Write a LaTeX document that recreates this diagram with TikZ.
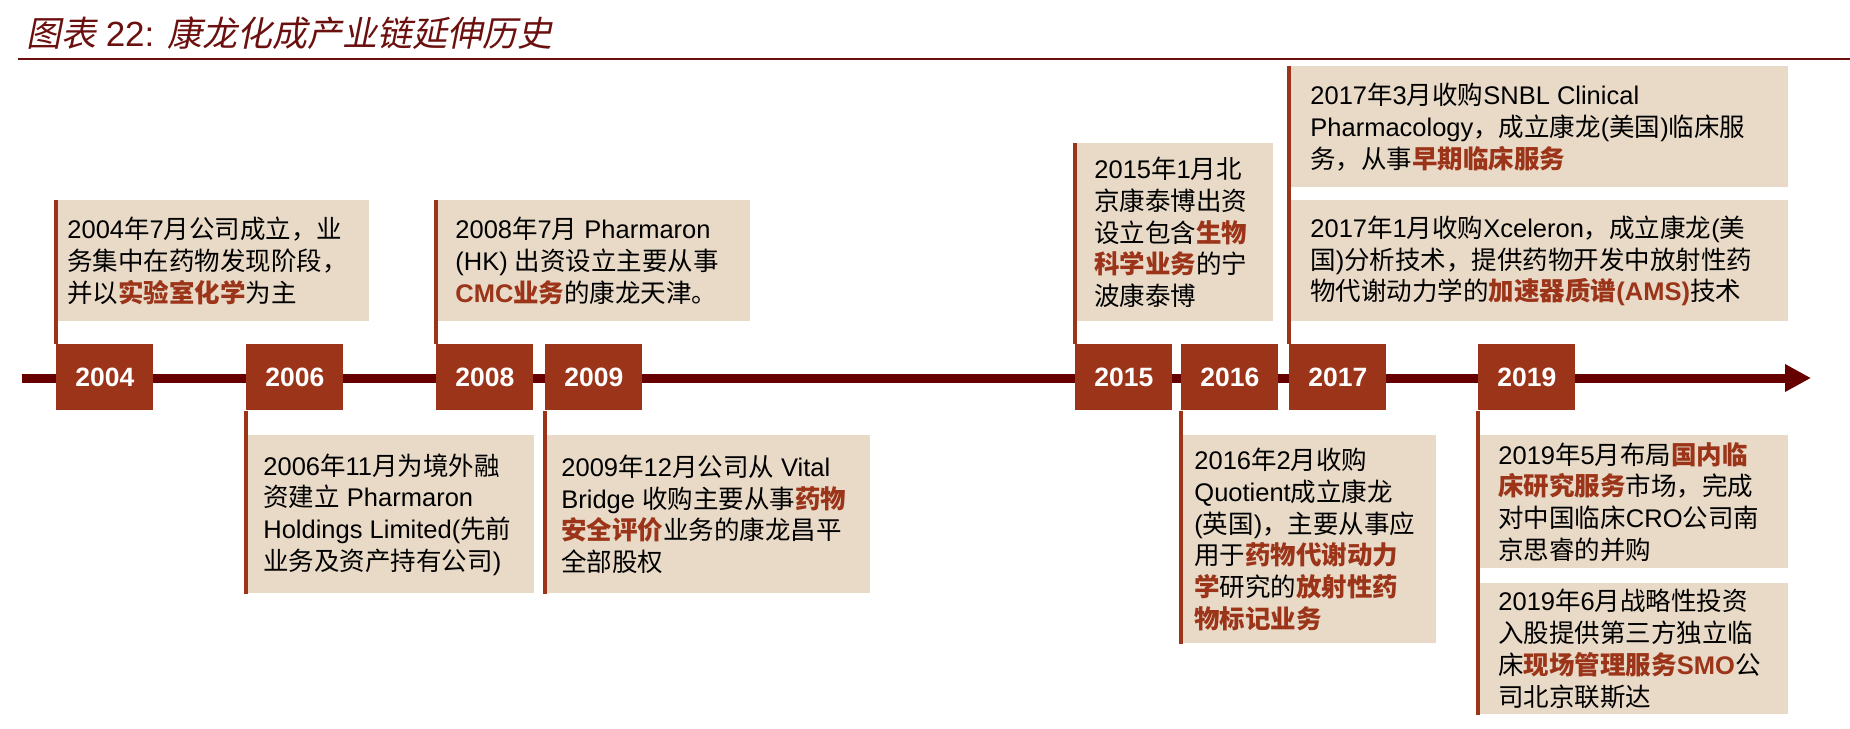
\documentclass[tikz,border=0pt]{standalone}
\usepackage{fontspec}
\usetikzlibrary{arrows.meta}
\setmainfont{Liberation Sans}
\newfontfamily\cjkfont{Noto Sans CJK SC}[ItalicFont=Noto Sans CJK SC,ItalicFeatures={FakeSlant=0.2}]

% every run of Chinese characters is set in the CJK font
\XeTeXinterchartokenstate=1
\newXeTeXintercharclass\cjkcls
\newcount\cjkcode
\newcommand\cjkrange[2]{\cjkcode=#1\relax
  \loop\XeTeXcharclass\cjkcode=\cjkcls
  \ifnum\cjkcode<#2\relax\advance\cjkcode by 1\repeat}
\cjkrange{"3000}{"303F}
\cjkrange{"4E00}{"9FFF}
\cjkrange{"FF00}{"FFEF}
\XeTeXinterchartoks 0 \cjkcls = {\begingroup\cjkfont}
\XeTeXinterchartoks 4095 \cjkcls = {\begingroup\cjkfont}
\XeTeXinterchartoks \cjkcls 0 = {\endgroup}
\XeTeXinterchartoks \cjkcls 4095 = {\endgroup}

\definecolor{rust}{HTML}{9B3419}
\definecolor{maroon}{HTML}{660000}
\definecolor{sand}{HTML}{E8DAC7}
\definecolor{titlered}{HTML}{6B0F0F}

\newcommand\redbf[1]{{\color{rust}\bfseries #1}}

\tikzset{
  yearbox/.style={fill=rust, text=white, font=\bfseries\fontsize{13.25pt}{15pt}\selectfont,
    minimum width=48.5pt, minimum height=33pt, inner sep=0pt, anchor=north west},
  card/.style={fill=sand, inner sep=0pt, anchor=north west},
  note/.style={align=left, inner sep=0pt, anchor=west, font=\fontsize{12.75pt}{15.85pt}\selectfont},
  stem/.style={draw=rust, line width=2.25pt},
}

\begin{document}
\begin{tikzpicture}[x=0.5pt,y=-0.5pt]
  \useasboundingbox (0,0) rectangle (1850,728);

  % Title and rule
  \node[anchor=base west, text=titlered, font=\itshape\fontsize{17.5pt}{20pt}\selectfont] (title) at (19,46)
    {图表 {\upshape 22:} 康龙化成产业链延伸历史};
  \draw[titlered, line width=1.25pt] (18,59) -- (1850,59);

  % Time axis
  \coordinate (axisstart) at (22,378);
  \coordinate (axisend) at (1811,378);
  \draw[maroon, line width=4.5pt, -{Triangle[length=13pt,width=13pt]}] (axisstart) -- (axisend);

  % Cards above the axis
  \node[card, minimum width=156.5pt, minimum height=60.5pt] (b2004) at (56,200) {};
  \node[card, minimum width=157pt, minimum height=60.5pt] (b2008) at (436,200) {};
  \node[card, minimum width=99pt, minimum height=89pt] (b2015) at (1075,143) {};
  \node[card, minimum width=249.5pt, minimum height=60.5pt] (b2017a) at (1289,66) {};
  \node[card, minimum width=249.5pt, minimum height=60.5pt] (b2017b) at (1289,200) {};

  % Cards below the axis
  \node[card, minimum width=144pt, minimum height=79pt] (b2006) at (246,435) {};
  \node[card, minimum width=162.5pt, minimum height=79pt] (b2009) at (545,435) {};
  \node[card, minimum width=127.5pt, minimum height=104pt] (b2016) at (1181,435) {};
  \node[card, minimum width=155pt, minimum height=66.5pt] (b2019a) at (1478,435) {};
  \node[card, minimum width=155pt, minimum height=65.5pt] (b2019b) at (1478,583) {};

  % Year boxes
  \foreach \yr/\x in {2004/56, 2006/246, 2008/436, 2009/545, 2015/1075, 2016/1181, 2017/1289, 2019/1478}
    \node[yearbox] (y\yr) at (\x,344) {\yr};

  % Stems from cards to years
  \draw[stem] (b2004.north west) -- (y2004.north west);
  \draw[stem] (b2008.north west) -- (y2008.north west);
  \draw[stem] (b2015.north west) -- (y2015.north west);
  \draw[stem] (b2017a.north west) -- (y2017.north west);
  \draw[stem] (y2006.south west) -- (b2006.south west);
  \draw[stem] (y2009.south west) -- (b2009.south west);
  \draw[stem] (y2016.south west) -- (b2016.south west);
  \draw[stem] (y2019.south west) -- (b2019b.south west);

  % Texts
  \node[note] (t2004) at ([xshift=5.5pt]b2004.west)
    {2004年7月公司成立，业\\务集中在药物发现阶段，\\并以\redbf{实验室化学}为主};
  \node[note] (t2008) at ([xshift=9.5pt]b2008.west)
    {2008年7月 Pharmaron\\(HK) 出资设立主要从事\\\redbf{CMC业务}的康龙天津。};
  \node[note] (t2015) at ([xshift=9.5pt]b2015.west)
    {2015年1月北\\京康泰博出资\\设立包含\redbf{生物}\\\redbf{科学业务}的宁\\波康泰博};
  \node[note] (t2017a) at ([xshift=10.5pt]b2017a.west)
    {2017年3月收购SNBL Clinical\\Pharmacology，成立康龙(美国)临床服\\务，从事\redbf{早期临床服务}};
  \node[note] (t2017b) at ([xshift=10.5pt]b2017b.west)
    {2017年1月收购Xceleron，成立康龙(美\\国)分析技术，提供药物开发中放射性药\\物代谢动力学的\redbf{加速器质谱(AMS)}技术};
  \node[note] (t2006) at ([xshift=8.5pt]b2006.west)
    {2006年11月为境外融\\资建立 Pharmaron\\Holdings Limited(先前\\业务及资产持有公司)};
  \node[note] (t2009) at ([xshift=8pt]b2009.west)
    {2009年12月公司从 Vital\\Bridge 收购主要从事\redbf{药物}\\\redbf{安全评价}业务的康龙昌平\\全部股权};
  \node[note] (t2016) at ([xshift=6.5pt]b2016.west)
    {2016年2月收购\\Quotient成立康龙\\(英国)，主要从事应\\用于\redbf{药物代谢动力}\\\redbf{学}研究的\redbf{放射性药}\\\redbf{物标记业务}};
  \node[note] (t2019a) at ([xshift=10pt]b2019a.west)
    {2019年5月布局\redbf{国内临}\\\redbf{床研究服务}市场，完成\\对中国临床CRO公司南\\京思睿的并购};
  \node[note] (t2019b) at ([xshift=10pt]b2019b.west)
    {2019年6月战略性投资\\入股提供第三方独立临\\床\redbf{现场管理服务SMO}公\\司北京联斯达};
\end{tikzpicture}
\end{document}
